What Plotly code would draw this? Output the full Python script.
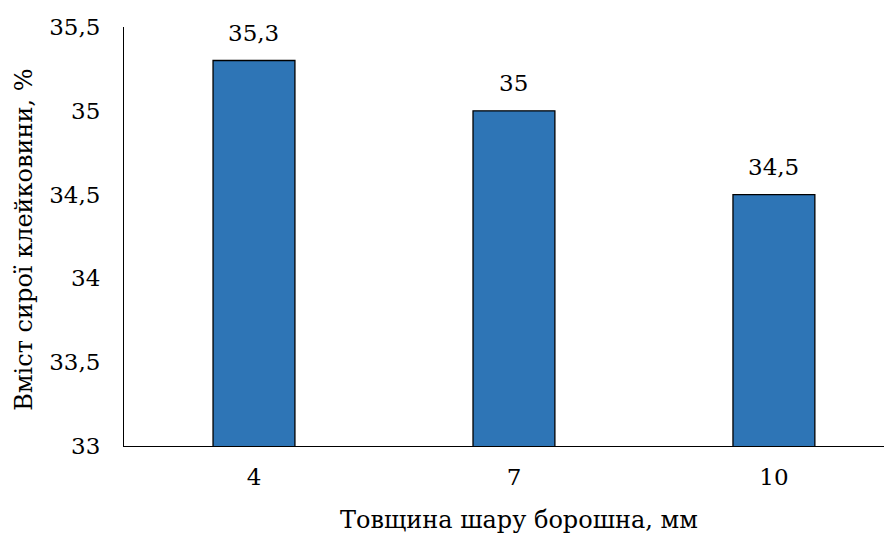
import plotly.graph_objects as go

categories = ["4", "7", "10"]
values = [35.3, 35.0, 34.5]
y_ticks = [33, 33.5, 34, 34.5, 35, 35.5]
x_title = "Товщина шару борошна, мм"
y_title = "Вміст сирої клейковини, %"

def fmt(v):
    s = ("%g" % v)
    return s.replace(".", ",")

FONT = "DejaVu Serif"
FS = 23
TFS = 24

fig = go.Figure()
fig.add_trace(go.Bar(
    x=categories,
    y=values,
    width=0.315,
    marker=dict(color="#2E75B6", line=dict(color="black", width=1.3)),
    cliponaxis=False,
))

annotations = []
for i, v in enumerate(values):
    annotations.append(dict(text=fmt(v), x=i, y=v, xref="x", yref="y",
                            xanchor="center", yanchor="bottom", yshift=13,
                            showarrow=False,
                            font=dict(family=FONT, size=FS, color="black")))
annotations += [
    dict(text=x_title, xref="paper", yref="paper",
         x=0.509, y=-0.177,
         xanchor="center", yanchor="middle", showarrow=False,
         font=dict(family=FONT, size=TFS, color="black")),
    dict(text=y_title, xref="paper", yref="paper",
         x=-0.129, y=0.492,
         xanchor="center", yanchor="middle", showarrow=False, textangle=-90,
         font=dict(family=FONT, size=TFS, color="black")),
]

fig.update_layout(
    template="none",
    width=892, height=537,
    margin=dict(l=116, r=0, t=19, b=99, pad=0),
    plot_bgcolor="white", paper_bgcolor="white",
    separators=", ",
    showlegend=False,
    font=dict(family=FONT, size=FS, color="black"),
    xaxis=dict(
        type="category",
        range=[-0.5, 2.485],
        automargin=False,
        showline=True, linecolor="black", linewidth=1,
        ticks="", showgrid=False, zeroline=False,
        tickfont=dict(family=FONT, size=FS, color="black"),
        ticklabelstandoff=10,
    ),
    yaxis=dict(
        range=[33, 35.5],
        automargin=False,
        tickvals=y_ticks,
        ticktext=[fmt(v) for v in y_ticks],
        showline=True, linecolor="black", linewidth=1,
        ticks="", showgrid=False, zeroline=False,
        tickfont=dict(family=FONT, size=FS, color="black"),
        ticklabelstandoff=18,
    ),
    annotations=annotations,
)

fig.write_html("out.html")
